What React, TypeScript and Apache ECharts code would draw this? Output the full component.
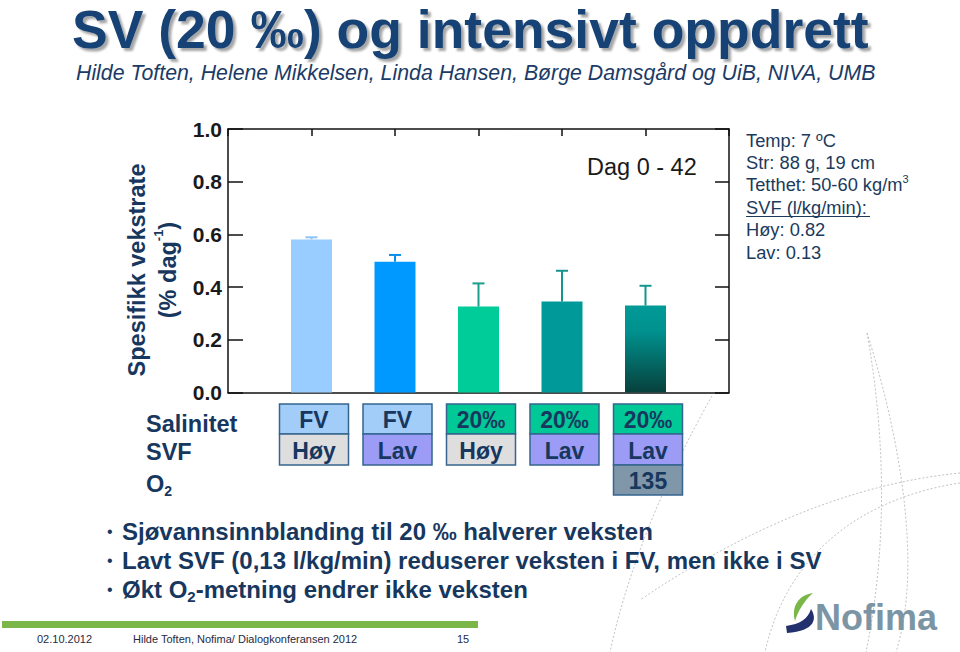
import React, { useEffect, useRef } from 'react';
import * as echarts from 'echarts';

// ---------- data ----------
const groups = ['FV Høy', 'FV Lav', '20‰ Høy', '20‰ Lav', '20‰ Lav 135'];
const groupPositions = [1, 2, 3, 4, 5];
const growthRate = [0.581, 0.496, 0.326, 0.345, 0.33];
const errorUpper = [0.589, 0.522, 0.414, 0.462, 0.405];
const salinity = ['FV', 'FV', '20‰', '20‰', '20‰'];
const flowRate = ['Høy', 'Lav', 'Høy', 'Lav', 'Lav'];
const oxygen = ['', '', '', '', '135'];
const yMin = 0;
const yMax = 1;
const yStep = 0.2;
const conditions = [
  '{t|Temp: 7 ºC}',
  '{t|Str: 88 g, 19 cm}',
  '{t|Tetthet: 50-60 kg/m}{s|3}',
  '{t|SVF (l/kg/min):}',
  '{t|Høy: 0.82}',
  '{t|Lav: 0.13}',
];
const bullets = [
  '{b|Sjøvannsinnblanding til 20 ‰ halverer veksten}',
  '{b|Lavt SVF (0,13 l/kg/min) reduserer veksten i FV, men ikke i SV}',
  '{b|Økt O}{sub|2}{b|-metning endrer ikke veksten}',
];

// ---------- styles ----------
const FONT = '"Liberation Sans", Arial, sans-serif';
const NAVY = '#17375E';
const barColors: any[] = [
  '#99CCFF',
  '#0099FF',
  '#00CC99',
  '#009999',
  new echarts.graphic.LinearGradient(0, 0, 0, 1, [
    { offset: 0, color: '#009a97' },
    { offset: 0.3, color: '#00918e' },
    { offset: 1, color: '#07403c' },
  ]),
];
const errColors = ['#8ec5f5', '#0a8fe8', '#1a9d8c', '#15958f', '#15958f'];
const salFill: Record<string, string> = { FV: '#A3CDF9', '20‰': '#00C897' };
const svfFill: Record<string, string> = { Høy: '#DEDEDE', Lav: '#9C9CF7' };
const o2Fill = '#7F97A8';

const nofimaNavy =
  'M811 609 C817 618 816 631 787 633 L786 626 C800 624 808 619 811 609 Z';
const nofimaLeaf =
  'M813 593 C799 595 791 606 795 621 C798 611 804 601 813 593 Z';

echarts.graphic.registerShape('nofimaNavy', echarts.graphic.extendPath(nofimaNavy, {}));
echarts.graphic.registerShape('nofimaLeaf', echarts.graphic.extendPath(nofimaLeaf, {}));

function dotted(x1: number, y1: number, cpx1: number, cpy1: number, cpx2: number, cpy2: number, x2: number, y2: number) {
  return {
    type: 'bezierCurve',
    silent: true,
    z: -10,
    shape: { x1, y1, cpx1, cpy1, cpx2, cpy2, x2, y2 },
    style: { stroke: '#c2c2c2', lineWidth: 1, lineDash: [2, 2], fill: null },
  };
}

export default function App() {
  const ref = useRef<HTMLDivElement>(null);

  useEffect(() => {
    if (!ref.current) return;
    const chart = echarts.init(ref.current, null, { renderer: 'svg' });

    const graphics: any[] = [
      // decorative dotted arcs
      dotted(867, 333, 895, 420, 925, 560, 896, 652),
      dotted(867, 333, 888, 450, 885, 560, 866, 652),
      dotted(960, 473, 890, 480, 780, 505, 640, 600),
      dotted(960, 483, 880, 495, 790, 540, 765, 652),
      dotted(712, 396, 670, 470, 630, 560, 610, 652),
      // title
      {
        type: 'text',
        left: 72,
        top: 2,
        style: {
          text: 'SV (20 ‰) og intensivt oppdrett',
          font: `bold 53.5px ${FONT}`,
          fill: '#194374',
          textShadowColor: 'rgba(0,0,0,0.35)',
          textShadowOffsetX: 3,
          textShadowOffsetY: 3,
          textShadowBlur: 2,
        },
      },
      {
        type: 'text',
        x: 76,
        y: 73,
        style: {
          text: 'Hilde Toften, Helene Mikkelsen, Linda Hansen, Børge Damsgård og UiB, NIVA, UMB',
          font: `italic 21.3px ${FONT}`,
          fill: '#1b3b66',
          verticalAlign: 'middle',
        },
      },
      // y axis title
      {
        type: 'text',
        x: 152,
        y: 270,
        rotation: Math.PI / 2,
        style: {
          text: '{a|Spesifikk vekstrate}\n{a|(% dag}{s|-1}{a|)}',
          align: 'center',
          verticalAlign: 'middle',
          rich: {
            a: { fontSize: 23.5, fontWeight: 'bold', fontFamily: FONT, fill: NAVY, lineHeight: 31 },
            s: { fontSize: 13, fontWeight: 'bold', fontFamily: FONT, fill: NAVY, lineHeight: 26, verticalAlign: 'top' },
          },
        },
      },
      // Dag 0 - 42
      {
        type: 'text',
        x: 587,
        y: 167,
        style: { text: 'Dag 0 - 42', font: `23.5px ${FONT}`, fill: '#1a1a1a', verticalAlign: 'middle' },
      },
      // row labels
      {
        type: 'text',
        x: 146,
        y: 424,
        style: { text: 'Salinitet', font: `bold 23.5px ${FONT}`, fill: NAVY, verticalAlign: 'middle' },
      },
      {
        type: 'text',
        x: 146,
        y: 452,
        style: { text: 'SVF', font: `bold 23.5px ${FONT}`, fill: NAVY, verticalAlign: 'middle' },
      },
      {
        type: 'text',
        x: 146,
        y: 484,
        style: {
          text: '{a|O}{s|2}',
          verticalAlign: 'middle',
          rich: {
            a: { fontSize: 23.5, fontWeight: 'bold', fontFamily: FONT, fill: NAVY, lineHeight: 28 },
            s: { fontSize: 14, fontWeight: 'bold', fontFamily: FONT, fill: NAVY, lineHeight: 16, verticalAlign: 'bottom' },
          },
        },
      },
      // underline for SVF (l/kg/min):
      {
        type: 'line',
        shape: { x1: 746, y1: 216.5, x2: 870, y2: 216.5 },
        style: { stroke: '#1b3a5c', lineWidth: 1 },
      },
      // footer
      { type: 'rect', shape: { x: 2, y: 621, width: 476, height: 7 }, style: { fill: '#7AB648' } },
      { type: 'text', x: 37, y: 639, style: { text: '02.10.2012', font: `11px ${FONT}`, fill: '#1e2b45', verticalAlign: 'middle' } },
      {
        type: 'text',
        x: 133,
        y: 639,
        style: { text: 'Hilde Toften, Nofima/ Dialogkonferansen 2012', font: `11px ${FONT}`, fill: '#1e2b45', verticalAlign: 'middle' },
      },
      { type: 'text', x: 457, y: 639, style: { text: '15', font: `11px ${FONT}`, fill: '#1e2b45', verticalAlign: 'middle' } },
      // Nofima logo
      { type: 'nofimaLeaf', x: 0, y: 0, style: { fill: '#7AB648' } },
      { type: 'nofimaNavy', x: 0, y: 0, style: { fill: '#23306e' } },
      {
        type: 'text',
        x: 815,
        y: 617,
        style: { text: 'Nofima', font: `bold 36px ${FONT}`, fill: '#7b95a5', verticalAlign: 'middle' },
      },
    ];

    conditions.forEach((line, i) => {
      graphics.push({
        type: 'text',
        x: 746,
        y: 140 + i * 22.4,
        style: {
          text: line,
          verticalAlign: 'middle',
          rich: {
            t: { fontSize: 18.3, fontFamily: FONT, fill: '#1b3a5c', lineHeight: 22 },
            s: { fontSize: 11, fontFamily: FONT, fill: '#1b3a5c', lineHeight: 20, verticalAlign: 'top' },
          },
        },
      });
    });

    bullets.forEach((line, i) => {
      const y = 531 + i * 29;
      graphics.push({
        type: 'text',
        x: 107,
        y: y,
        style: { text: '•', font: `16px ${FONT}`, fill: NAVY, verticalAlign: 'middle' },
      });
      graphics.push({
        type: 'text',
        x: 122,
        y: y,
        style: {
          text: line,
          verticalAlign: 'middle',
          rich: {
            b: { fontSize: 24, fontWeight: 'bold', fontFamily: FONT, fill: NAVY, lineHeight: 30 },
            sub: { fontSize: 15, fontWeight: 'bold', fontFamily: FONT, fill: NAVY, lineHeight: 16, verticalAlign: 'bottom' },
          },
        },
      });
    });

    const axisLineStyle = { color: '#111', width: 1.5 };

    chart.setOption({
      animation: false,
      backgroundColor: '#ffffff',
      grid: { left: 228, right: 231, top: 129, bottom: 259.5, containLabel: false, outerBoundsMode: 'none' },
      xAxis: [
        {
          type: 'value',
          position: 'bottom',
          min: 0,
          max: 6,
          interval: 1,
          axisLine: { show: true, onZero: false, lineStyle: axisLineStyle },
          axisTick: { show: false },
          axisLabel: { show: false },
          splitLine: { show: false },
        },
        {
          type: 'value',
          position: 'top',
          min: 0,
          max: 6,
          interval: 1,
          axisLine: { show: true, onZero: false, lineStyle: axisLineStyle },
          axisTick: { show: true, inside: true, length: 7, lineStyle: axisLineStyle },
          axisLabel: { show: false },
          splitLine: { show: false },
        },
      ],
      yAxis: [
        {
          type: 'value',
          position: 'left',
          min: yMin,
          max: yMax,
          interval: yStep,
          axisLine: { show: true, onZero: false, lineStyle: axisLineStyle },
          axisTick: { show: true, inside: true, length: 15, lineStyle: axisLineStyle },
          axisLabel: {
            show: true,
            margin: 6,
            fontSize: 21,
            fontWeight: 'bold',
            fontFamily: FONT,
            color: '#1a1a1a',
            verticalAlign: 'middle',
            padding: [16, 0, 0, 0],
            formatter: (v: number) => v.toFixed(1),
          },
          splitLine: { show: false },
        },
        {
          type: 'value',
          position: 'right',
          min: yMin,
          max: yMax,
          interval: yStep,
          axisLine: { show: true, onZero: false, lineStyle: axisLineStyle },
          axisTick: { show: true, inside: true, length: 14, lineStyle: axisLineStyle },
          axisLabel: { show: false },
          splitLine: { show: false },
        },
      ],
      series: [
        {
          type: 'bar',
          name: 'Spesifikk vekstrate',
          xAxisIndex: 0,
          yAxisIndex: 0,
          barWidth: 41,
          data: groupPositions.map((x, i) => ({
            name: groups[i],
            value: [x, growthRate[i]],
            itemStyle: { color: barColors[i] },
          })),
          z: 2,
        },
        {
          type: 'custom',
          name: 'SE',
          xAxisIndex: 0,
          yAxisIndex: 0,
          z: 3,
          clip: false,
          data: groupPositions.map((x, i) => [x, growthRate[i], errorUpper[i]]),
          renderItem: (params: any, api: any) => {
            const i = params.dataIndex;
            const x = api.value(0);
            const p0 = api.coord([x, api.value(1)]);
            const p1 = api.coord([x, api.value(2)]);
            const c = errColors[i];
            return {
              type: 'group',
              children: [
                { type: 'line', shape: { x1: p0[0], y1: p0[1], x2: p1[0], y2: p1[1] }, style: { stroke: c, lineWidth: 2 } },
                { type: 'line', shape: { x1: p1[0] - 6, y1: p1[1], x2: p1[0] + 6, y2: p1[1] }, style: { stroke: c, lineWidth: 2 } },
              ],
            };
          },
        },
        {
          type: 'custom',
          name: 'Behandling',
          xAxisIndex: 0,
          yAxisIndex: 0,
          z: 3,
          clip: false,
          data: groupPositions.map((x) => [x, 0]),
          renderItem: (params: any, api: any) => {
            const i = params.dataIndex;
            const pt = api.coord([api.value(0), 0]);
            const cx = pt[0] + 2.5;
            const w = 69;
            const hs = [30, 31, 30];
            const rows = [
              { t: salinity[i], f: salFill[salinity[i]] },
              { t: flowRate[i], f: svfFill[flowRate[i]] },
              { t: oxygen[i], f: o2Fill },
            ];
            const children: any[] = [];
            let y = pt[1] + 11.5;
            rows.forEach((r, k) => {
              if (r.t) {
                children.push({
                  type: 'rect',
                  shape: { x: cx - w / 2, y, width: w, height: hs[k] },
                  style: { fill: r.f, stroke: '#35658F', lineWidth: 1.5 },
                });
                children.push({
                  type: 'text',
                  style: {
                    text: r.t,
                    x: cx,
                    y: y + hs[k] / 2 + 1,
                    align: 'center',
                    verticalAlign: 'middle',
                    fontSize: 23,
                    fontWeight: 'bold',
                    fontFamily: FONT,
                    fill: NAVY,
                  },
                });
              }
              y += hs[k];
            });
            return { type: 'group', children };
          },
        },
      ],
      graphic: graphics,
    });

    return () => chart.dispose();
  }, []);

  return (
    <div
      ref={ref}
      style={{ position: 'fixed', left: 0, top: 0, width: 960, height: 652, background: '#fff' }}
    />
  );
}
